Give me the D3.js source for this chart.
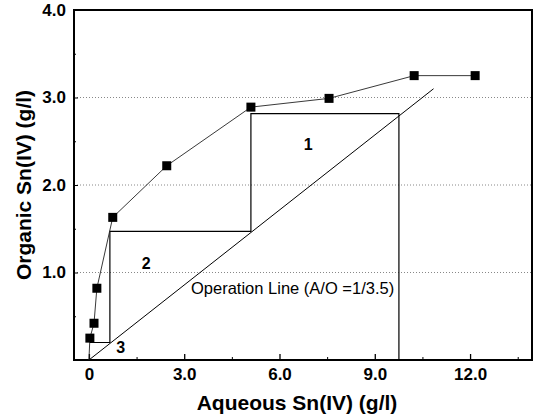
<!DOCTYPE html>
<html><head><meta charset="utf-8">
<script src="https://cdn.jsdelivr.net/npm/d3@7"></script>
<style>
html,body{margin:0;padding:0;background:#fff;}
svg{display:block;font-family:"Liberation Sans",Arial,sans-serif;}
</style></head>
<body>
<svg id="chart" width="537" height="418"></svg>
<script>
// ---- data ----
const aqueous = [0.03, 0.16, 0.25, 0.75, 2.45, 5.1, 7.56, 10.24, 12.16];
const organic = [0.25, 0.42, 0.82, 1.63, 2.22, 2.89, 2.99, 3.25, 3.25];
const curveStartX = 0, curveStartY = 0;
const stairX = [9.76, 9.76, 5.1, 5.1, 0.66, 0.66, 0.03];
const stairY = [0, 2.815, 2.815, 1.47, 1.47, 0.2, 0.2];
const opX = [0, 10.85];
const opY = [0, 3.1];
const stageLabels = ["1", "2", "3"];
const stageX = [6.9, 1.8, 1.0];
const stageY = [2.46, 1.1, 0.14];
const opLabel = "Operation Line (A/O =1/3.5)";
const xTicks = [0, 3, 6, 9, 12];
const xTickLabels = ["0", "3.0", "6.0", "9.0", "12.0"];
const xMinor = [1.5, 4.5, 7.5, 10.5, 13.5];
const yTicks = [1, 2, 3, 4];
const yTickLabels = ["1.0", "2.0", "3.0", "4.0"];
const yMinor = [0.5, 1.5, 2.5, 3.5];
const xTitle = "Aqueous Sn(IV) (g/l)";
const yTitle = "Organic Sn(IV) (g/l)";

const L = 74, R = 532, T = 10, B = 360;
const x = d3.scaleLinear().domain([-0.47, 13.95]).range([L, R]);
const y = d3.scaleLinear().domain([0, 4]).range([B, T]);
const svg = d3.select("#chart");

// gridlines
svg.append("g").selectAll("line").data([1, 2, 3]).join("line")
  .attr("x1", L).attr("x2", R).attr("y1", d => y(d)).attr("y2", d => y(d))
  .attr("stroke", "#888").attr("stroke-width", 1).attr("stroke-dasharray", "1,2");

// axes
const xAxis = d3.axisBottom(x).tickValues(xTicks).tickSize(-6).tickFormat((d, i) => xTickLabels[i]).tickPadding(8);
const gx = svg.append("g").attr("transform", `translate(0,${B})`).call(xAxis);
gx.select(".domain").remove();
gx.selectAll(".tick line").attr("stroke", "#000").attr("stroke-width", 1.3);
gx.selectAll("text").attr("font-size", 17).attr("font-weight", "bold").attr("fill", "#000");
const gxm = svg.append("g").attr("transform", `translate(0,${B})`)
  .call(d3.axisBottom(x).tickValues(xMinor).tickSize(-3).tickFormat(""));
gxm.select(".domain").remove();
gxm.selectAll(".tick line").attr("stroke", "#000");

const yAxis = d3.axisLeft(y).tickValues(yTicks).tickSize(-4).tickFormat((d, i) => yTickLabels[i]).tickPadding(8);
const gy = svg.append("g").attr("transform", `translate(${L},0)`).call(yAxis);
gy.select(".domain").remove();
gy.selectAll(".tick line").attr("stroke", "#000");
gy.selectAll("text").attr("font-size", 17).attr("font-weight", "bold").attr("fill", "#000");
const gym = svg.append("g").attr("transform", `translate(${L},0)`)
  .call(d3.axisLeft(y).tickValues(yMinor).tickSize(-2).tickFormat(""));
gym.select(".domain").remove();
gym.selectAll(".tick line").attr("stroke", "#000");

// frame
svg.append("rect").attr("x", L).attr("y", T).attr("width", R - L).attr("height", B - T)
  .attr("fill", "none").attr("stroke", "#000").attr("stroke-width", 2);

// operation line
svg.append("path").datum(opX.map((d, i) => [d, opY[i]]))
  .attr("d", d3.line().x(d => x(d[0])).y(d => y(d[1])))
  .attr("fill", "none").attr("stroke", "#000").attr("stroke-width", 1);

// staircase
svg.append("path").datum(stairX.map((d, i) => [d, stairY[i]]))
  .attr("d", d3.line().x(d => x(d[0])).y(d => y(d[1])))
  .attr("fill", "none").attr("stroke", "#000").attr("stroke-width", 1.2);

// equilibrium curve
const curve = [[curveStartX, curveStartY]].concat(aqueous.map((d, i) => [d, organic[i]]));
svg.append("path").datum(curve)
  .attr("d", d3.line().x(d => x(d[0])).y(d => y(d[1])))
  .attr("fill", "none").attr("stroke", "#222").attr("stroke-width", 0.9);
svg.append("g").selectAll("rect").data(aqueous.map((d, i) => [d, organic[i]])).join("rect")
  .attr("x", d => x(d[0]) - 4.5).attr("y", d => y(d[1]) - 4.5)
  .attr("width", 9).attr("height", 9).attr("fill", "#000");

// stage labels
svg.append("g").selectAll("text").data(stageLabels).join("text")
  .attr("x", (d, i) => x(stageX[i])).attr("y", (d, i) => y(stageY[i]))
  .attr("text-anchor", "middle").attr("dominant-baseline", "central")
  .attr("font-size", 16).attr("font-weight", "bold").text(d => d);

svg.append("text").attr("x", 191).attr("y", 294).attr("font-size", 16.5).text(opLabel);

// titles
svg.append("text").attr("x", 297).attr("y", 410).attr("text-anchor", "middle")
  .attr("font-size", 21).attr("font-weight", "bold").text(xTitle);
svg.append("text").attr("transform", "translate(31,185) rotate(-90)").attr("text-anchor", "middle")
  .attr("font-size", 21).attr("font-weight", "bold").text(yTitle);
</script>
</body></html>
